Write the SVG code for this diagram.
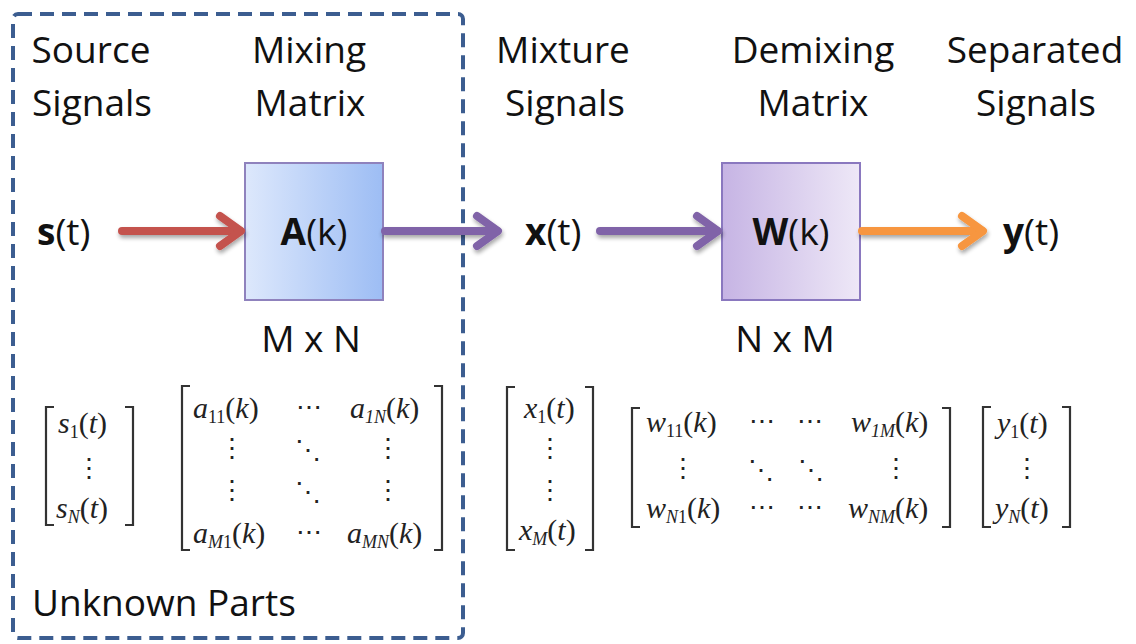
<svg xmlns="http://www.w3.org/2000/svg" width="1136" height="644" viewBox="0 0 1136 644">
  <style>
    .lbl { font-family: "Open Sans", "Liberation Sans", sans-serif; font-size: 37px; fill: #111; text-anchor: middle; }
    .sig { font-family: "Open Sans", "Liberation Sans", sans-serif; font-size: 37px; fill: #111; }
    .b { font-weight: 700; }
    .m { font-family: "Liberation Serif", "DejaVu Serif", serif; font-style: italic; font-size: 30px; fill: #222; }
    .sub { font-size: 18px; }
    .up { font-style: normal; }
    .dots { font-family: "DejaVu Serif", serif; font-size: 26px; fill: #222; text-anchor: middle; }
    .brk { fill: none; stroke: #333; stroke-width: 2.2; }
    .conn { fill: none; stroke-width: 8; stroke-linecap: round; stroke-linejoin: round; filter: url(#shadow); }
  </style>
  <defs>
    <linearGradient id="gA" x1="0" y1="0" x2="1" y2="0">
      <stop offset="0" stop-color="#dde8fc"/>
      <stop offset="1" stop-color="#9dbdf4"/>
    </linearGradient>
    <linearGradient id="gW" x1="0" y1="0" x2="1" y2="0">
      <stop offset="0" stop-color="#c6b4e4"/>
      <stop offset="1" stop-color="#eee8f7"/>
    </linearGradient>
    <filter id="shadow" x="-10%" y="-50%" width="120%" height="250%">
      <feGaussianBlur in="SourceAlpha" stdDeviation="2"/>
      <feOffset dx="1" dy="3" result="b"/>
      <feComponentTransfer><feFuncA type="linear" slope="0.35"/></feComponentTransfer>
      <feMerge><feMergeNode/><feMergeNode in="SourceGraphic"/></feMerge>
    </filter>
  </defs>

  <rect width="1136" height="644" fill="#ffffff"/>

  <!-- region holding the unknown parts of the model -->
  <g id="unknown-region">
    <rect x="13" y="14" width="450" height="624" rx="5" fill="none" stroke="#3c5d90" stroke-width="4" stroke-dasharray="14 8"/>
    <text class="sig" x="32" y="616">Unknown Parts</text>
  </g>

  <!-- column headings -->
  <g id="headings">
    <text class="lbl" x="91" y="63">Source</text>
    <text class="lbl" x="92" y="116">Signals</text>
    <text class="lbl" x="309" y="63">Mixing</text>
    <text class="lbl" x="310" y="116">Matrix</text>
    <text class="lbl" x="563" y="63">Mixture</text>
    <text class="lbl" x="565" y="116">Signals</text>
    <text class="lbl" x="813" y="63">Demixing</text>
    <text class="lbl" x="813" y="116">Matrix</text>
    <text class="lbl" x="1035" y="63">Separated</text>
    <text class="lbl" x="1036" y="116">Signals</text>
  </g>

  <!-- signal nodes -->
  <g id="node-s"><text class="sig" x="37" y="245"><tspan class="b">s</tspan>(t)</text></g>
  <g id="node-x"><text class="sig" x="525" y="245"><tspan class="b">x</tspan>(t)</text></g>
  <g id="node-y"><text class="sig" x="1003" y="245"><tspan class="b">y</tspan>(t)</text></g>

  <!-- mixing block -->
  <g id="node-A">
    <rect x="245" y="163" width="138" height="137" fill="url(#gA)" stroke="#8f82bd" stroke-width="2"/>
    <text class="lbl" x="314" y="245"><tspan class="b">A</tspan>(k)</text>
    <text class="lbl" x="311" y="352">M x N</text>
  </g>

  <!-- demixing block -->
  <g id="node-W">
    <rect x="722" y="163" width="138" height="137" fill="url(#gW)" stroke="#8a78bf" stroke-width="2"/>
    <text class="lbl" x="791" y="245"><tspan class="b">W</tspan>(k)</text>
    <text class="lbl" x="785" y="352">N x M</text>
  </g>

  <!-- signal flow -->
  <g id="connectors">
    <g class="conn" stroke="#c4524d">
      <path d="M122 231 H240"/>
      <path d="M220 216 L241 231 L220 246"/>
    </g>
    <g class="conn" stroke="#8064a8">
      <path d="M385 231 H497"/>
      <path d="M477 216 L498 231 L477 246"/>
    </g>
    <g class="conn" stroke="#8064a8">
      <path d="M600 231 H717"/>
      <path d="M697 216 L718 231 L697 246"/>
    </g>
    <g class="conn" stroke="#f7963f">
      <path d="M862 231 H982"/>
      <path d="M962 216 L983 231 L962 246"/>
    </g>
  </g>

  <!-- source vector s(t) -->
  <g id="vec-s">
    <path class="brk" d="M54 407 H46 V525 H54 M125 407 H133 V525 H125"/>
    <text class="m" x="58" y="433">s<tspan class="sub up" dy="5">1</tspan><tspan class="up" dy="-5">(</tspan>t<tspan class="up">)</tspan></text>
    <text class="dots" x="89" y="477">⋮</text>
    <text class="m" x="56" y="518">s<tspan class="sub" dy="5">N</tspan><tspan class="up" dy="-5">(</tspan>t<tspan class="up">)</tspan></text>
  </g>

  <!-- mixing matrix A(k) -->
  <g id="mat-A">
    <path class="brk" d="M190 386 H182 V550 H190 M434 386 H442 V550 H434"/>
    <text class="m" x="193" y="418">a<tspan class="sub up" dy="5">11</tspan><tspan class="up" dy="-5">(</tspan>k<tspan class="up">)</tspan></text>
    <text class="dots" x="309" y="416">⋯</text>
    <text class="m" x="350" y="418">a<tspan class="sub" dy="5">1N</tspan><tspan class="up" dy="-5">(</tspan>k<tspan class="up">)</tspan></text>
    <text class="dots" x="232" y="457">⋮</text>
    <text class="dots" x="308" y="459">⋱</text>
    <text class="dots" x="388" y="457">⋮</text>
    <text class="dots" x="232" y="499">⋮</text>
    <text class="dots" x="308" y="501">⋱</text>
    <text class="dots" x="388" y="499">⋮</text>
    <text class="m" x="193" y="543">a<tspan class="sub" dy="5">M</tspan><tspan class="sub up">1</tspan><tspan class="up" dy="-5">(</tspan>k<tspan class="up">)</tspan></text>
    <text class="dots" x="309" y="541">⋯</text>
    <text class="m" x="347" y="543">a<tspan class="sub" dy="5">MN</tspan><tspan class="up" dy="-5">(</tspan>k<tspan class="up">)</tspan></text>
  </g>

  <!-- mixture vector x(t) -->
  <g id="vec-x">
    <path class="brk" d="M515 387 H507 V550 H515 M585 387 H593 V550 H585"/>
    <text class="m" x="524" y="418">x<tspan class="sub up" dy="5">1</tspan><tspan class="up" dy="-5">(</tspan>t<tspan class="up">)</tspan></text>
    <text class="dots" x="550" y="457">⋮</text>
    <text class="dots" x="550" y="499">⋮</text>
    <text class="m" x="519" y="540">x<tspan class="sub" dy="5">M</tspan><tspan class="up" dy="-5">(</tspan>t<tspan class="up">)</tspan></text>
  </g>

  <!-- demixing matrix W(k) -->
  <g id="mat-W">
    <path class="brk" d="M640 408 H632 V527 H640 M942 408 H950 V527 H942"/>
    <text class="m" x="646" y="432">w<tspan class="sub up" dy="5">11</tspan><tspan class="up" dy="-5">(</tspan>k<tspan class="up">)</tspan></text>
    <text class="dots" x="762" y="430">⋯</text>
    <text class="dots" x="810" y="430">⋯</text>
    <text class="m" x="851" y="432">w<tspan class="sub" dy="5">1M</tspan><tspan class="up" dy="-5">(</tspan>k<tspan class="up">)</tspan></text>
    <text class="dots" x="683" y="477">⋮</text>
    <text class="dots" x="761" y="479">⋱</text>
    <text class="dots" x="811" y="479">⋱</text>
    <text class="dots" x="896" y="477">⋮</text>
    <text class="m" x="646" y="518">w<tspan class="sub" dy="5">N</tspan><tspan class="sub up">1</tspan><tspan class="up" dy="-5">(</tspan>k<tspan class="up">)</tspan></text>
    <text class="dots" x="762" y="516">⋯</text>
    <text class="dots" x="810" y="516">⋯</text>
    <text class="m" x="848" y="518">w<tspan class="sub" dy="5">NM</tspan><tspan class="up" dy="-5">(</tspan>k<tspan class="up">)</tspan></text>
  </g>

  <!-- separated vector y(t) -->
  <g id="vec-y">
    <path class="brk" d="M991 407 H983 V527 H991 M1062 407 H1070 V527 H1062"/>
    <text class="m" x="997" y="433">y<tspan class="sub up" dy="5">1</tspan><tspan class="up" dy="-5">(</tspan>t<tspan class="up">)</tspan></text>
    <text class="dots" x="1027" y="477">⋮</text>
    <text class="m" x="995" y="518">y<tspan class="sub" dy="5">N</tspan><tspan class="up" dy="-5">(</tspan>t<tspan class="up">)</tspan></text>
  </g>
</svg>
